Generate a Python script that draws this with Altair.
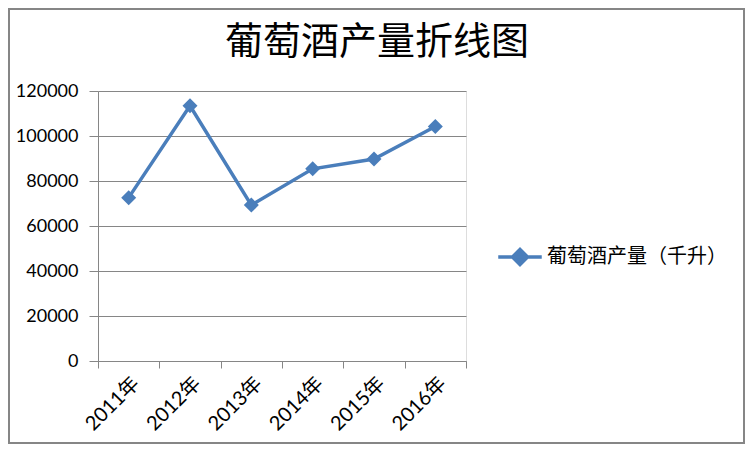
import altair as alt
import pandas as pd

years = ["2011年", "2012年", "2013年", "2014年", "2015年", "2016年"]
values = [72600, 113400, 69300, 85400, 89800, 104200]
series = "葡萄酒产量（千升）"
title_text = "葡萄酒产量折线图"
y_ticks = [0, 20000, 40000, 60000, 80000, 100000, 120000]

BLUE = "#4A7EBB"
GRAY = "#868686"

df = pd.DataFrame({"year": years, "value": values, "series": [series] * len(years)})

W, H = 368, 270
PL, PT, PR, PB = 90, 83, 279, 83

x_enc = alt.X(
    "year:O",
    sort=years,
    bandPosition=0.5,
    scale=alt.Scale(type="band", paddingInner=0, paddingOuter=0),
    axis=alt.Axis(
        title=None, tickBand="extent", labelAngle=-45, labelFontSize=20,
        labelFont="Lato, Noto Sans CJK SC", labelColor="black", tickSize=7,
        tickColor=GRAY, domainColor=GRAY, labelPadding=5, grid=False,
    ),
)
y_enc = alt.Y(
    "value:Q",
    scale=alt.Scale(domain=[0, 120000], nice=False),
    axis=alt.Axis(
        title=None, values=y_ticks, format="d", labelFontSize=18, labelFont="Lato",
        labelColor="black", tickSize=9, tickColor=GRAY, domainColor=GRAY,
        gridColor=GRAY, gridWidth=1, labelPadding=11,
    ),
)

line = alt.Chart(df).mark_line(strokeWidth=3.5).encode(
    x=x_enc,
    y=y_enc,
    color=alt.Color(
        "series:N",
        scale=alt.Scale(range=[BLUE]),
        legend=alt.Legend(
            title=None, orient="none", legendX=412, legendY=156, padding=0,
            symbolType="M-2.9,0L2.9,0M-1,0L0,-1L1,0L0,1Z", symbolSize=225,
            symbolStrokeWidth=3.5, symbolFillColor=BLUE, symbolStrokeColor=BLUE,
            labelFontSize=20, labelFont="Noto Sans CJK SC", labelColor="black",
            labelOffset=17, labelLimit=300,
        ),
    ),
)
points = alt.Chart(df).mark_point(shape="diamond", filled=True, size=225, opacity=1, color=BLUE).encode(
    x=x_enc, y=y_enc
)

border = alt.Chart(alt.Data(values=[{"a": 1}])).mark_rect(
    fillOpacity=0, stroke=GRAY, strokeWidth=2
).encode(
    x=alt.value(-PL + 1), x2=alt.value(W + PR - 1),
    y=alt.value(-PT + 1), y2=alt.value(H + PB - 1),
)

title = alt.Chart(alt.Data(values=[{"t": title_text}])).mark_text(
    fontSize=38, font="Noto Sans CJK SC", fontWeight="normal", color="black",
    align="center", baseline="middle",
).encode(
    text="t:N", x=alt.value(279), y=alt.value(-48),
)

chart = alt.layer(border, line, points, title).properties(
    width=W, height=H,
    autosize=alt.AutoSizeParams(type="none"),
    padding={"left": PL, "top": PT, "right": PR, "bottom": PB},
).configure_view(stroke=None).configure(background="white")

chart.save("out.html", embed_options={"renderer": "svg", "actions": False})
